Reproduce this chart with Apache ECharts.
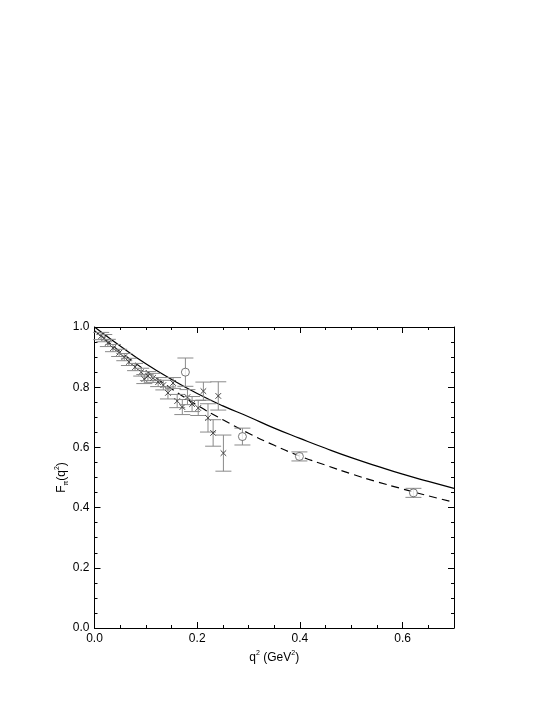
<!DOCTYPE html>
<html>
<head>
<meta charset="utf-8">
<script src="https://cdn.jsdelivr.net/npm/echarts@6/dist/echarts.min.js"></script>
<style>html,body{margin:0;padding:0;background:#fff;}#c{width:547px;height:708px;}</style>
</head>
<body>
<div id="c"></div>
<script>
// Cross data points (q^2, F, error)
const crossQ2 = [0.013,0.019,0.026,0.036,0.048,0.058,0.067,0.079,0.091,0.097,0.104,0.114,0.124,0.134,0.143,0.153,0.161,0.171,0.181,0.190,0.202,0.212,0.221,0.231,0.241,0.251];
const crossF  = [0.970,0.963,0.947,0.930,0.914,0.900,0.884,0.867,0.850,0.827,0.837,0.831,0.817,0.807,0.781,0.814,0.754,0.734,0.767,0.744,0.731,0.787,0.698,0.648,0.771,0.581];
const crossErr= [0.012,0.012,0.012,0.012,0.012,0.012,0.012,0.012,0.013,0.015,0.015,0.015,0.015,0.016,0.02,0.018,0.022,0.025,0.025,0.025,0.025,0.03,0.047,0.044,0.047,0.06];
// Circle data points
const circQ2 = [0.177,0.288,0.399,0.621];
const circF  = [0.850,0.636,0.570,0.449];
const circErr= [0.047,0.028,0.015,0.015];
// Curves
const curveQ2 = [0,0.05,0.1,0.15,0.2,0.25,0.3,0.35,0.4,0.45,0.5,0.55,0.6,0.65,0.7];
const solidF  = [1.0,0.937,0.878,0.826,0.779,0.738,0.702,0.664,0.630,0.597,0.566,0.538,0.511,0.487,0.464];
const dashedF = [0.988,0.918,0.855,0.795,0.740,0.692,0.647,0.607,0.571,0.541,0.512,0.486,0.462,0.439,0.418];
// Tick labels
const xTickLabels = ['0.0','0.2','0.4','0.6'];
const yTickLabels = ['0.0','0.2','0.4','0.6','0.8','1.0'];

const FONT = 'Liberation Sans, Arial, sans-serif';
const chart = echarts.init(document.getElementById('c'));

function errRender(kind){
  return function(params, api){
    const x = api.value(0), y = api.value(1), e = api.value(2);
    const t = api.coord([x, y + e]), b = api.coord([x, y - e]), c = api.coord([x, y]);
    const hw = 8;
    const st = {stroke:'#8a8a8a', lineWidth:1, fill:null};
    const ch = [
      {type:'line', shape:{x1:t[0],y1:t[1],x2:b[0],y2:b[1]}, style:st},
      {type:'line', shape:{x1:t[0]-hw,y1:t[1],x2:t[0]+hw,y2:t[1]}, style:st},
      {type:'line', shape:{x1:b[0]-hw,y1:b[1],x2:b[0]+hw,y2:b[1]}, style:st}
    ];
    if (kind === 'cross') {
      const s = 2.8, cs = {stroke:'#444', lineWidth:1, fill:null};
      ch.push({type:'line', shape:{x1:c[0]-s,y1:c[1]-s,x2:c[0]+s,y2:c[1]+s}, style:cs});
      ch.push({type:'line', shape:{x1:c[0]-s,y1:c[1]+s,x2:c[0]+s,y2:c[1]-s}, style:cs});
    }
    return {type:'group', children:ch};
  };
}

const axisLineStyle = {show:true, onZero:false, lineStyle:{color:'#000', width:1}};
const labelStyle = {color:'#000', fontSize:12, fontFamily:FONT};

function xMajor(pos, labels){
  return {type:'value', min:0, max:0.7, interval:0.2, position:pos,
    axisLine:axisLineStyle,
    axisTick:{show:true, inside:true, length:6, lineStyle:{color:'#000'}},
    axisLabel: labels ? Object.assign({show:true, margin:5, showMaxLabel:true,
      formatter:function(v){ const i = Math.round(v/0.2); return Math.abs(v - i*0.2) < 1e-6 ? xTickLabels[i] : ''; }}, labelStyle) : {show:false},
    splitLine:{show:false}};
}
function xMinor(pos){
  return {type:'value', min:0, max:0.7, interval:0.05, position:pos,
    axisLine:{show:false, onZero:false}, axisTick:{show:true, inside:true, length:3, lineStyle:{color:'#000'}},
    axisLabel:{show:false}, splitLine:{show:false}};
}
function yAx(pos, labels){
  return {type:'value', min:0, max:1.0, interval:0.2, position:pos,
    axisLine:axisLineStyle,
    axisTick:{show:true, inside:true, length:6, lineStyle:{color:'#000'}},
    minorTick:{show:true, splitNumber:4, length:3, lineStyle:{color:'#000'}},
    axisLabel: labels ? Object.assign({show:true, margin:5,
      formatter:function(v){ return yTickLabels[Math.round(v/0.2)]; }}, labelStyle) : {show:false},
    splitLine:{show:false}, minorSplitLine:{show:false}};
}

const xMain = xMajor('bottom', true);
xMain.name = '{a|q}{p|2}{a| (GeV}{p|2}{a|)}';
xMain.nameLocation = 'middle';
xMain.nameGap = 22;
xMain.nameTextStyle = {fontFamily:FONT, color:'#000', rich:{
  a:{fontSize:12, fontFamily:FONT, color:'#000', lineHeight:16},
  p:{fontSize:7, fontFamily:FONT, color:'#000', lineHeight:8, verticalAlign:'top'}}};

const yMain = yAx('left', true);
yMain.name = '{a|F}{s|π}{a|(q}{p|2}{a|)}';
yMain.nameLocation = 'middle';
yMain.nameRotate = 90;
yMain.nameGap = 25;
yMain.nameMoveOverlap = false;
yMain.nameTextStyle = {fontFamily:FONT, color:'#000', rich:{
  a:{fontSize:12, fontFamily:FONT, color:'#000', lineHeight:16},
  s:{fontSize:7, fontFamily:FONT, color:'#000', lineHeight:8, verticalAlign:'bottom'},
  p:{fontSize:7, fontFamily:FONT, color:'#000', lineHeight:8, verticalAlign:'top'}}};

chart.setOption({
  animation:false,
  backgroundColor:'#fff',
  grid:{left:94.5, right:93, top:327, bottom:80, containLabel:false},
  xAxis:[xMain, xMinor('bottom'), xMajor('top', false), xMinor('top')],
  yAxis:[yMain, yAx('right', false)],
  series:[
    {type:'line', xAxisIndex:0, yAxisIndex:0, smooth:true, symbol:'none',
      lineStyle:{color:'#000', width:1.2}, data:curveQ2.map((q,i)=>[q, solidF[i]]), z:3},
    {type:'line', xAxisIndex:0, yAxisIndex:0, smooth:true, symbol:'none',
      lineStyle:{color:'#000', width:1.2, type:[8,5]}, data:curveQ2.map((q,i)=>[q, dashedF[i]]), z:3},
    {type:'custom', xAxisIndex:0, yAxisIndex:0, renderItem:errRender('cross'),
      data:crossQ2.map((q,i)=>[q, crossF[i], crossErr[i]]), z:4},
    {type:'custom', xAxisIndex:0, yAxisIndex:0, renderItem:errRender('circle'),
      data:circQ2.map((q,i)=>[q, circF[i], circErr[i]]), z:4},
    {type:'scatter', xAxisIndex:0, yAxisIndex:0, symbol:'circle', symbolSize:8,
      itemStyle:{color:'#fff', borderColor:'#555', borderWidth:1},
      data:circQ2.map((q,i)=>[q, circF[i]]), z:5}
  ]
});
</script>
</body>
</html>
